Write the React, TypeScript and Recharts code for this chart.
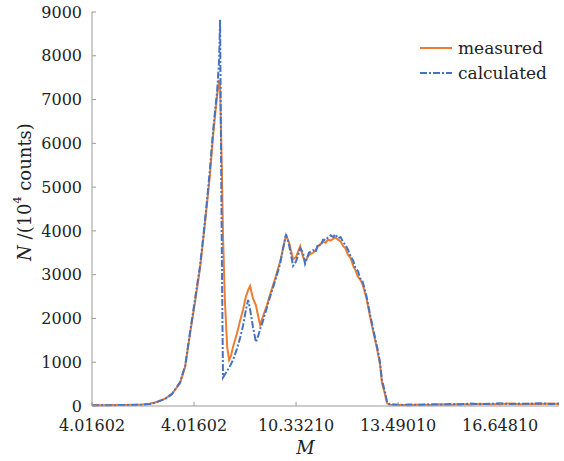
import React from "react";
import { LineChart, Line, XAxis, YAxis, Label } from "recharts";

// M positions (x axis)
const mValues = [
  4.02, 4.33, 4.64, 4.95, 5.26, 5.57, 5.8, 5.97, 6.28, 6.49, 6.74, 6.9, 7.05,
  7.2, 7.36, 7.48, 7.58, 7.67, 7.76, 7.82, 7.89, 7.95, 7.98, 8.04, 8.07, 8.13,
  8.2, 8.26, 8.32, 8.38, 8.5, 8.6, 8.69, 8.78, 8.85, 8.91, 9.0, 9.09, 9.16,
  9.22, 9.31, 9.43, 9.53, 9.68, 9.84, 9.93, 10.02, 10.11, 10.24, 10.33, 10.46,
  10.55, 10.61, 10.73, 10.86, 10.94, 11.01, 11.09, 11.17, 11.25, 11.32, 11.4,
  11.48, 11.55, 11.63, 11.71, 11.79, 11.86, 11.94, 12.02, 12.1, 12.17, 12.25,
  12.31, 12.38, 12.5, 12.62, 12.75, 12.84, 12.93, 12.99, 13.09, 13.15, 13.24,
  13.4, 13.55, 13.85, 14.17, 14.48, 14.79, 15.1, 15.41, 15.72, 16.03, 16.34,
  16.65, 16.96, 17.27, 17.58, 17.89, 18.2, 18.47,
];

const measured = [
  20, 15, 25, 20, 30, 35, 50, 80, 170, 280, 520, 900, 1650, 2350, 3150, 3950,
  4650, 5300, 6150, 6600, 7100, 7450, 7300, 5200, 3900, 2400, 1350, 1050, 1150,
  1350, 1650, 1950, 2200, 2500, 2650, 2740, 2450, 2300, 2050, 1850, 2050, 2300,
  2550, 2900, 3300, 3600, 3900, 3750, 3350, 3400, 3650, 3400, 3300, 3450, 3500,
  3560, 3650, 3700, 3750, 3730, 3800, 3780, 3820, 3850, 3800, 3760, 3650, 3600,
  3450, 3380, 3200, 3100, 2950, 2900, 2800, 2500, 2050, 1600, 1300, 950, 530,
  250, 60, 30, 25, 30, 20, 35, 25, 40, 30, 45, 35, 50, 40, 45, 55, 40, 50, 45,
  55, 45,
];

const calculated = [
  10, 20, 15, 25, 20, 30, 45, 75, 160, 270, 540, 920, 1680, 2420, 3200, 4000,
  4720, 5450, 6250, 6700, 7200, 7900, 8820, 3000, 650, 720, 800, 880, 960, 1050,
  1300, 1560, 1830, 2200, 2420, 2200, 1800, 1460, 1600, 1750, 1950, 2250, 2500,
  2850, 3250, 3600, 3920, 3700, 3200, 3300, 3600, 3500, 3250, 3500, 3560, 3520,
  3700, 3660, 3800, 3790, 3850, 3900, 3860, 3920, 3830, 3860, 3740, 3680, 3570,
  3420, 3320, 3150, 3080, 2920, 2870, 2550, 2100, 1650, 1350, 1000, 600, 300, 80,
  40, 35, 20, 35, 25, 40, 30, 45, 35, 55, 40, 50, 60, 45, 55, 50, 60, 45, 55,
];

const xTicks = [4.01602, 7.1741, 10.3321, 13.4901, 16.6481];
const xTickLabels = ["4.01602", "4.01602", "10.33210", "13.49010", "16.64810"];
const yTicks = [0, 1000, 2000, 3000, 4000, 5000, 6000, 7000, 8000, 9000];

const series = [
  { key: "measured", name: "measured", color: "#ED7D31", dash: undefined },
  { key: "calculated", name: "calculated", color: "#4472C4", dash: "7 2 2 2" },
];

const data = mValues.map((m, i) => ({
  m,
  measured: measured[i],
  calculated: calculated[i],
}));

const FONT = "'DejaVu Serif', serif";

const YTitle = ({ viewBox }: any) => {
  const cx = viewBox.x + 24;
  const cy = viewBox.y + viewBox.height / 2 - 17;
  return (
    <text
      x={cx}
      y={cy}
      transform={`rotate(-90 ${cx} ${cy})`}
      textAnchor="middle"
      dominantBaseline="central"
      fontFamily={FONT}
      fontSize={18}
      fill="#222"
    >
      <tspan fontStyle="italic">N</tspan>
      <tspan> /(10</tspan>
      <tspan dy={-7} fontSize={11}>
        4
      </tspan>
      <tspan dy={7}> counts)</tspan>
    </text>
  );
};

const XTitle = ({ viewBox }: any) => (
  <text
    x={viewBox.x + viewBox.width / 2 - 20}
    y={viewBox.y + 41}
    textAnchor="middle"
    dominantBaseline="central"
    fontFamily={FONT}
    fontSize={18}
    fontStyle="italic"
    fill="#222"
  >
    M
  </text>
);

const ChartLegend = () => (
  <div
    style={{
      position: "absolute",
      left: 420,
      top: 35,
      fontFamily: FONT,
      fontSize: 17,
      color: "#222",
    }}
  >
    {series.map((s) => (
      <div
        key={s.key}
        style={{ display: "flex", alignItems: "center", height: 25 }}
      >
        <svg width={32} height={10}>
          <line
            x1={0}
            y1={5}
            x2={32}
            y2={5}
            stroke={s.color}
            strokeWidth={2}
            strokeDasharray={s.dash}
          />
        </svg>
        <span style={{ marginLeft: 6 }}>{s.name}</span>
      </div>
    ))}
  </div>
);

const tickStyle = { fontFamily: FONT, fontSize: 16, fill: "#222" };

export default function App() {
  return (
    <div
      style={{
        position: "absolute",
        left: 0,
        top: 0,
        width: 564,
        height: 461,
        background: "#fff",
      }}
    >
      <LineChart
        width={564}
        height={461}
        data={data}
        margin={{ top: 12, right: 5, bottom: 0, left: 0 }}
      >
        <XAxis
          dataKey="m"
          type="number"
          domain={[4.01602, 18.47]}
          ticks={xTicks}
          tickFormatter={(v: number) => xTickLabels[xTicks.indexOf(v)] ?? ""}
          height={55}
          tickSize={-4}
          tickMargin={18}
          tick={tickStyle}
          stroke="#999"
          interval={0}
          allowDataOverflow
        >
          <Label content={XTitle} />
        </XAxis>
        <XAxis
          xAxisId="top"
          orientation="top"
          dataKey="m"
          type="number"
          domain={[4.01602, 18.47]}
          height={0}
          tick={false}
          tickLine={false}
          stroke="#999"
        />
        <YAxis
          domain={[0, 9000]}
          ticks={yTicks}
          width={92}
          tickSize={-4}
          tickMargin={14}
          tick={tickStyle}
          stroke="#999"
          interval={0}
        >
          <Label content={YTitle} />
        </YAxis>
        <YAxis
          yAxisId="right"
          orientation="right"
          domain={[0, 9000]}
          width={0}
          tick={false}
          tickLine={false}
          stroke="#999"
        />
        {series.map((s) => (
          <Line
            key={s.key}
            dataKey={s.key}
            name={s.name}
            stroke={s.color}
            strokeWidth={2}
            strokeDasharray={s.dash}
            dot={false}
            type="linear"
            isAnimationActive={false}
          />
        ))}
      </LineChart>
      <ChartLegend />
    </div>
  );
}
